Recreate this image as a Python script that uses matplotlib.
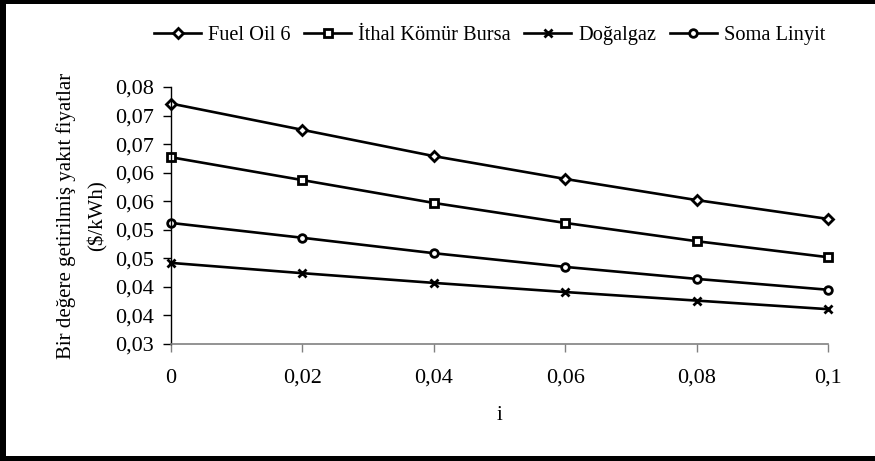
import matplotlib
matplotlib.use("Agg")
import matplotlib.pyplot as plt
from matplotlib.patches import Rectangle
from matplotlib.ticker import FixedLocator, FuncFormatter

plt.rcParams['font.family'] = ['Liberation Serif', 'DejaVu Serif']

categories = ["0", "0,02", "0,04", "0,06", "0,08", "0,1"]
fuel_oil = [0.0721, 0.0675, 0.0629, 0.0589, 0.0552, 0.0519]
ithal = [0.0627, 0.0587, 0.0547, 0.0512, 0.0480, 0.0452]
dogalgaz = [0.0442, 0.0424, 0.0407, 0.0391, 0.0376, 0.0361]
soma = [0.0512, 0.0486, 0.0459, 0.0435, 0.0414, 0.0395]
y_ticks = [0.03, 0.035, 0.04, 0.045, 0.05, 0.055, 0.06, 0.065, 0.07, 0.075]

W, H = 875, 461
fig = plt.figure(figsize=(W / 100, H / 100), dpi=100, facecolor='white')
ax = fig.add_axes([171 / W, 1 - 344 / H, (828 - 171) / W, (344 - 87) / H])
ax.set_facecolor('white')

xs = list(range(len(categories)))
fs_tick = 16
fs = 15
common = dict(color='black', lw=1.9, mew=2.0, mec='black', clip_on=False)
ax.plot(xs, fuel_oil, marker='D', mfc='white', ms=5.0, label='Fuel Oil 6', **common)
ax.plot(xs, ithal, marker='s', mfc='white', ms=5.5, label='İthal Kömür Bursa', **common)
ax.plot(xs, dogalgaz, marker='x', ms=6.0, label='Doğalgaz', **common)
ax.plot(xs, soma, marker='o', mfc='white', ms=5.5, label='Soma Linyit', **common)

ax.set_xlim(0, len(categories) - 1)
ax.set_ylim(0.03, 0.075)
ax.set_xticks(xs)
ax.set_xticklabels(categories, fontsize=fs_tick)
ax.yaxis.set_major_locator(FixedLocator(y_ticks))
ax.yaxis.set_major_formatter(FuncFormatter(lambda v, p: f"{round(v + 1e-9, 2):.2f}".replace('.', ',')))
ax.tick_params(axis='y', labelsize=fs_tick, length=6, width=1, direction='out', pad=6)
ax.tick_params(axis='x', labelsize=fs_tick, length=6, width=1, direction='out', pad=12, color='#808080')

for s in ['top', 'right']:
    ax.spines[s].set_visible(False)
ax.spines['left'].set_color('black')
ax.spines['left'].set_linewidth(1)
ax.spines['bottom'].set_color('#808080')
ax.spines['bottom'].set_linewidth(1.2)

ax.set_xlabel('i', fontsize=fs, labelpad=13)
ax.set_ylabel('Bir değere getirilmiş yakıt fiyatlar\n($/kWh)', fontsize=fs, labelpad=6, linespacing=1.75)

leg = ax.legend(loc='upper center', bbox_to_anchor=(0.485, 1.27), ncol=4, frameon=False,
                fontsize=14.7, handlelength=2.3, handletextpad=0.35, columnspacing=0.65,
                borderaxespad=0)

# outer frame (left, top, bottom)
for (x0, y0, w, h) in [(0, 0, 6 / W, 1), (0, 1 - 4 / H, 1, 4 / H), (0, 0, 1, 5 / H)]:
    fig.add_artist(Rectangle((x0, y0), w, h, transform=fig.transFigure,
                             facecolor='black', edgecolor='none', lw=0, zorder=10))

fig.savefig('out.png', dpi=100, facecolor='white')
